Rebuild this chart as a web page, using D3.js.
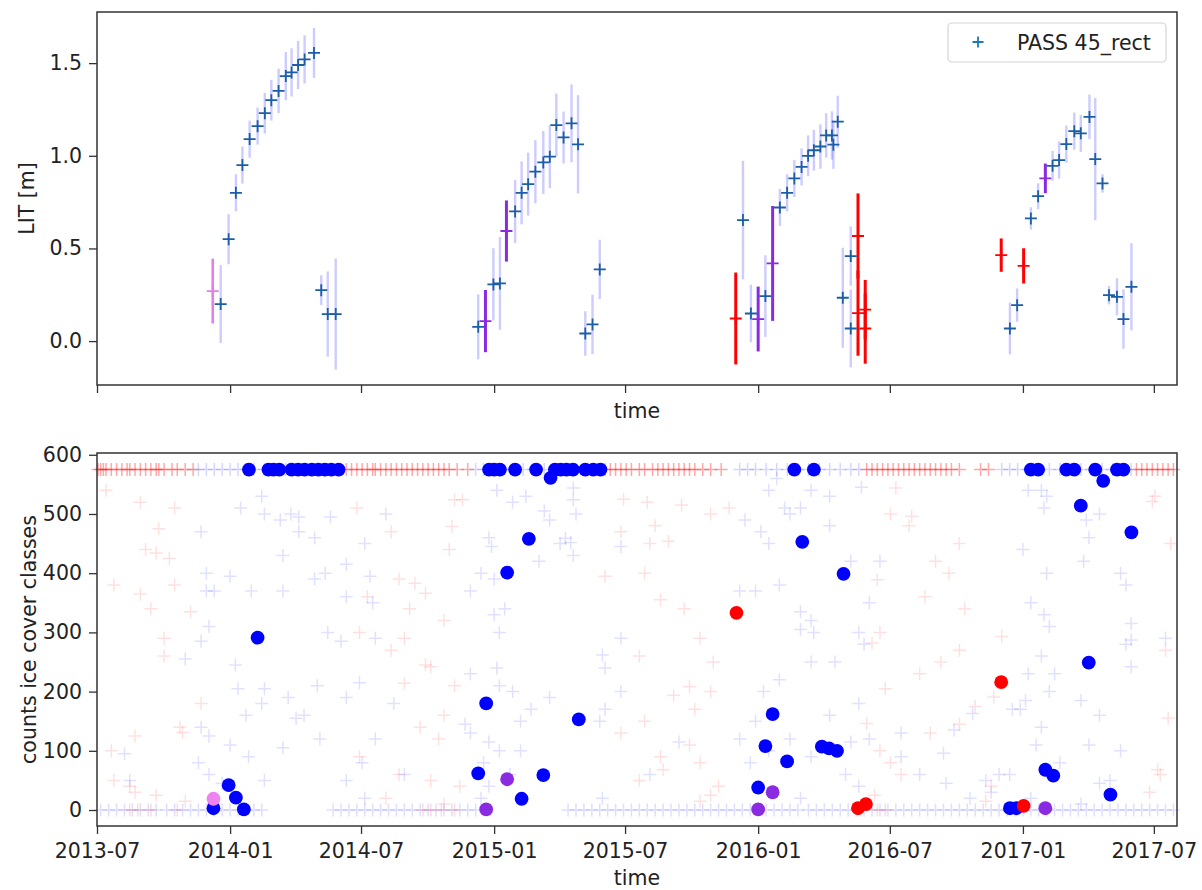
<!DOCTYPE html>
<html>
<head>
<meta charset="utf-8">
<script src="https://cdn.jsdelivr.net/npm/d3@7"></script>
<style>
  body { margin: 0; background: #fff; }
  svg { display: block; font-family: "DejaVu Sans", sans-serif; }
</style>
</head>
<body>
<svg id="chart"></svg>
<script>
// ---- data ----

// top panel: lake ice thickness per acquisition
let litDates = [
  "2013-12-08","2013-12-19","2013-12-30","2014-01-09","2014-01-18","2014-01-28","2014-02-08","2014-02-18",
  "2014-02-27","2014-03-09","2014-03-19","2014-03-27","2014-04-05","2014-04-14","2014-04-27","2014-05-07",
  "2014-05-16","2014-05-27",
  "2014-12-10","2014-12-20","2014-12-31","2015-01-09","2015-01-18","2015-01-30","2015-02-08","2015-02-17",
  "2015-02-27","2015-03-10","2015-03-19","2015-03-28","2015-04-07","2015-04-18","2015-04-27","2015-05-07",
  "2015-05-17","2015-05-27",
  "2015-12-01","2015-12-11","2015-12-22","2016-01-01","2016-01-11","2016-01-21","2016-01-31","2016-02-10",
  "2016-02-20","2016-03-01","2016-03-10","2016-03-18","2016-03-27","2016-04-04","2016-04-12","2016-04-14",
  "2016-04-20","2016-04-27","2016-05-08","2016-05-08","2016-05-18","2016-05-18","2016-05-28","2016-05-28",
  "2016-12-02","2016-12-14","2016-12-24","2017-01-02","2017-01-12","2017-01-22","2017-02-01","2017-02-11",
  "2017-02-20","2017-03-02","2017-03-13","2017-03-22","2017-04-03","2017-04-11","2017-04-21","2017-04-30",
  "2017-05-11","2017-05-20","2017-05-31"
];
let litValues = [
  0.27,0.20,0.55,0.80,0.95,1.09,1.16,1.23,
  1.30,1.35,1.43,1.45,1.49,1.52,1.555,0.275,
  0.146,0.146,
  0.077,0.108,0.306,0.311,0.594,0.70,0.80,0.847,
  0.914,0.964,0.995,1.166,1.099,1.175,1.062,0.041,
  0.09,0.387,
  0.122,0.653,0.149,0.119,0.243,0.419,0.721,0.80,
  0.878,0.94,1.00,1.03,1.05,1.11,1.11,1.06,
  1.184,0.234,0.459,0.068,0.567,0.151,0.17,0.068,
  0.464,0.068,0.194,0.406,0.662,0.782,0.878,0.946,
  0.977,1.063,1.133,1.121,1.21,0.982,0.851,0.248,
  0.239,0.119,0.293
];
let litErrors = [
  0.175,0.21,0.135,0.10,0.10,0.10,0.10,0.11,
  0.11,0.12,0.13,0.13,0.13,0.13,0.135,0.08,
  0.23,0.30,
  0.175,0.168,0.195,0.25,0.165,0.17,0.17,0.17,
  0.17,0.17,0.17,0.17,0.14,0.21,0.265,0.12,
  0.16,0.16,
  0.248,0.32,0.155,0.175,0.22,0.31,0.10,0.10,
  0.10,0.10,0.11,0.11,0.12,0.12,0.13,0.13,
  0.14,0.27,0.16,0.21,0.23,0.23,0.16,0.19,
  0.09,0.14,0.09,0.095,0.06,0.07,0.08,0.08,
  0.10,0.10,0.10,0.10,0.12,0.33,0.05,0.05,
  0.10,0.16,0.235
];
let litClass = [
  "violet","blue","blue","blue","blue","blue","blue","blue",
  "blue","blue","blue","blue","blue","blue","blue","blue",
  "blue","blue",
  "blue","purple","blue","blue","purple","blue","blue","blue",
  "blue","blue","blue","blue","blue","blue","blue","blue",
  "blue","blue",
  "red","blue","blue","purple","blue","purple","blue","blue",
  "blue","blue","blue","blue","blue","blue","blue","blue",
  "blue","blue","blue","blue","red","red","red","red",
  "red","blue","blue","red","blue","blue","purple","blue",
  "blue","blue","blue","blue","blue","blue","blue","blue",
  "blue","blue","blue"
];

// bottom panel: highlighted counts
let dotDates = [
  "2013-12-09","2013-12-30","2014-01-09","2014-01-20","2014-01-27","2014-02-08","2014-02-23","2014-03-02",
  "2014-03-10","2014-03-27","2014-04-05","2014-04-14","2014-04-24","2014-05-03","2014-05-12","2014-05-21",
  "2014-05-31",
  "2014-12-10","2014-12-21","2014-12-25","2015-01-01","2015-01-09","2015-01-19","2015-01-30","2015-02-08",
  "2015-02-18","2015-02-28","2015-03-10","2015-03-20","2015-03-26","2015-04-03","2015-04-11","2015-04-20",
  "2015-04-28","2015-05-07","2015-05-18","2015-05-28",
  "2016-01-01","2016-01-11","2016-01-21","2016-02-10","2016-02-20","2016-03-02","2016-03-18","2016-03-29",
  "2016-04-08","2016-04-19","2016-04-28",
  "2016-12-14","2016-12-23","2017-01-12","2017-01-22","2017-02-01","2017-02-12","2017-03-02","2017-03-13",
  "2017-03-22","2017-04-02","2017-04-11","2017-04-22","2017-05-02","2017-05-11","2017-05-20","2017-05-31",
  "2015-12-02","2016-05-18","2016-05-29","2016-12-02","2017-01-02",
  "2014-12-21","2015-01-19","2016-01-01","2016-01-21","2017-02-01",
  "2013-12-09"
];
let dotValues = [
  3,42,21,1,575,291,575,575,
  575,575,575,575,575,575,575,575,
  575,
  62,180,575,575,575,401,575,19,
  458,575,59,561,575,575,575,575,
  153,575,575,575,
  38,108,162,82,575,453,575,107,
  104,100,399,
  3,3,575,575,68,58,575,575,
  514,249,575,556,26,575,575,469,
  333,3,10,216,7,
  1,52,1,30,3,
  19
];
let dotClass = [
  "blue","blue","blue","blue","blue","blue","blue","blue",
  "blue","blue","blue","blue","blue","blue","blue","blue",
  "blue",
  "blue","blue","blue","blue","blue","blue","blue","blue",
  "blue","blue","blue","blue","blue","blue","blue","blue",
  "blue","blue","blue","blue",
  "blue","blue","blue","blue","blue","blue","blue","blue",
  "blue","blue","blue",
  "blue","blue","blue","blue","blue","blue","blue","blue",
  "blue","blue","blue","blue","blue","blue","blue","blue",
  "red","red","red","red","red",
  "purple","purple","purple","purple","purple",
  "violet"
];

// bottom panel: faint class counts, [decimal year, count]
let bgRed = [
  [2013.53,540],[2013.66,520],[2013.79,510],[2013.73,475],[2013.68,440],[2013.77,425],[2013.56,380],[2013.79,380],
  [2013.66,365],[2013.70,340],[2013.85,335],[2013.75,290],[2013.75,260],[2013.89,180],[2013.64,125],[2013.81,140],
  [2013.55,100],[2013.56,50],[2013.62,40],[2013.64,30],[2013.72,25],[2013.83,15],[2013.82,131],[2013.72,434],
  [2014.48,510],[2014.61,470],[2014.83,440],[2014.64,390],[2014.52,360],[2014.68,340],[2014.81,320],[2014.49,300],
  [2014.66,290],[2014.61,270],[2014.74,245],[2014.85,210],[2014.81,160],[2014.72,140],[2014.79,120],[2014.49,90],
  [2014.64,60],[2014.76,50],[2014.87,40],[2014.59,20],[2014.81,10],[2014.70,383],[2014.74,366],[2014.85,524],
  [2014.88,524],[2014.84,479],[2014.76,242],[2014.66,214],
  [2015.49,525],[2015.58,520],[2015.71,515],[2015.89,510],[2015.82,500],[2015.61,480],[2015.48,470],[2015.59,450],
  [2015.57,400],[2015.42,395],[2015.63,355],[2015.72,340],[2015.78,290],[2015.55,260],[2015.83,250],[2015.82,200],
  [2015.76,170],[2015.57,150],[2015.48,130],[2015.74,110],[2015.63,90],[2015.78,80],[2015.55,50],[2015.85,40],
  [2015.82,25],[2015.78,15],[2015.66,454],[2015.74,208],[2015.68,194],[2015.64,68],
  [2016.50,500],[2016.57,480],[2016.76,450],[2016.67,420],[2016.72,400],[2016.63,360],[2016.78,340],[2016.46,300],
  [2016.76,270],[2016.69,250],[2016.61,230],[2016.48,205],[2016.82,175],[2016.76,145],[2016.65,130],[2016.46,100],
  [2016.50,80],[2016.54,60],[2016.88,40],[2016.44,25],[2016.86,15],[2016.52,544],[2016.58,496],[2016.45,389],
  [2016.43,282],[2016.41,146],[2016.89,191],[2016.92,293],
  [2017.50,530],[2017.56,450],[2017.54,270],[2017.55,155],[2017.52,60],[2017.48,30],[2017.49,521],[2017.51,68]
];
let bgBlue = [
  [2013.89,470],[2013.91,400],[2013.91,370],[2013.92,310],[2013.89,285],[2013.83,255],[2013.89,140],[2013.92,125],
  [2013.88,80],[2013.92,60],[2013.60,95],[2013.62,50],
  [2014.12,530],[2014.04,510],[2014.13,500],[2014.23,500],[2014.26,495],[2014.38,495],[2014.19,490],[2014.26,470],
  [2014.32,460],[2014.20,430],[2014.44,415],[2014.36,400],[2014.00,395],[2014.32,390],[2014.08,370],[2014.20,370],
  [2013.94,370],[2014.44,360],[2014.37,300],[2014.42,285],[2014.02,245],[2014.13,205],[2014.03,205],[2014.33,210],
  [2014.44,190],[2014.22,190],[2014.12,180],[2014.28,160],[2014.06,160],[2014.25,155],[2014.34,120],[2014.20,105],
  [2014.00,110],[2014.07,90],[2014.44,50],[2014.13,50],[2013.97,45],
  [2014.59,500],[2014.51,450],[2014.53,395],[2014.54,350],[2014.55,290],[2014.49,215],[2014.62,180],[2014.55,120],
  [2014.50,80],[2014.51,20],[2014.66,60],
  [2015.01,540],[2015.12,530],[2015.07,520],[2015.19,505],[2015.31,500],[2015.21,490],[2014.98,460],[2014.99,445],
  [2015.25,450],[2015.29,452],[2015.30,430],[2015.17,420],[2014.95,400],[2015.00,390],[2014.91,370],[2015.04,340],
  [2015.00,330],[2015.02,300],[2015.01,240],[2014.91,230],[2015.02,210],[2015.07,200],[2015.21,190],[2015.14,170],
  [2015.10,150],[2014.89,145],[2014.91,130],[2014.98,115],[2015.02,100],[2015.10,100],[2014.96,80],[2015.06,60],
  [2014.98,40],[2014.95,20],[2015.30,544],[2015.30,524],[2015.27,459],
  [2015.48,290],[2015.42,240],[2015.48,200],[2015.42,170],[2015.40,150],[2015.70,115],[2015.59,60],[2015.41,20],
  [2015.48,445],[2015.41,262],
  [2016.07,560],[2016.04,540],[2016.20,540],[2016.27,530],[2016.16,510],[2016.10,510],[2016.12,500],[2015.95,490],
  [2016.27,480],[2016.01,470],[2016.04,450],[2016.35,420],[2016.08,380],[2015.99,370],[2015.93,370],[2016.16,335],
  [2016.20,320],[2016.16,305],[2016.21,300],[2016.20,250],[2016.29,250],[2016.08,220],[2016.02,200],[2016.38,180],
  [2016.27,160],[2015.99,150],[2015.93,120],[2016.12,120],[2016.35,115],[2016.04,100],[2016.20,90],[2015.97,80],
  [2016.33,60],[2016.38,40],[2016.16,20],
  [2016.39,545],[2016.46,420],[2016.42,350],[2016.38,300],[2016.40,280],[2016.74,135],[2016.42,120],[2016.54,90],
  [2016.61,60],[2016.71,45],[2016.80,20],[2016.54,130],[2016.70,96],[2016.81,163],[2016.88,30],[2016.86,50],
  [2017.02,540],[2017.07,540],[2017.09,530],[2017.08,510],[2017.29,500],[2017.24,490],[2017.25,460],[2017.00,440],
  [2017.23,420],[2017.09,400],[2017.37,400],[2017.39,380],[2017.03,350],[2017.08,330],[2017.10,310],[2017.39,280],
  [2017.07,260],[2017.12,230],[2017.02,230],[2017.10,200],[2017.01,185],[2017.22,185],[2016.96,170],[2016.99,170],
  [2017.29,160],[2017.07,140],[2017.25,110],[2017.05,110],[2017.37,100],[2017.14,80],[2016.95,60],[2016.91,60],
  [2017.33,50],[2017.29,45],[2017.03,20],[2017.22,10],
  [2017.41,315],[2017.41,287],[2017.54,290],[2017.41,242]
];
// dense rows at the saturated counts (575) and at zero, decimal years
let rowTopRed = [
  2013.50,2013.51,2013.52,2013.53,2013.55,2013.57,2013.59,2013.61,2013.62,2013.64,2013.66,2013.68,2013.70,2013.72,
  2013.73,2013.75,2013.78,2013.80,2013.83,2013.86,
  2014.44,2014.46,2014.48,2014.50,2014.52,2014.54,2014.55,2014.57,2014.59,2014.61,2014.63,2014.65,2014.67,2014.69,
  2014.71,2014.73,2014.75,2014.77,2014.79,2014.81,2014.83,2014.86,2014.90,
  2015.42,2015.44,2015.46,2015.48,2015.50,2015.52,2015.55,2015.57,2015.60,2015.62,2015.64,2015.66,2015.68,2015.70,
  2015.72,2015.74,2015.76,2015.79,2015.82,2015.86,
  2016.41,2016.43,2016.45,2016.47,2016.49,2016.51,2016.53,2016.55,2016.57,2016.59,2016.61,2016.63,2016.65,2016.67,
  2016.69,2016.71,2016.73,2016.76,2016.84,2016.87,
  2017.43,2017.45,2017.47,2017.49,2017.51,2017.53,2017.55,2017.57
];
let rowTopBlue = [
  2013.88,2013.91,2013.94,2013.97,2014.00,2014.03,2014.06,2014.09,2014.13,2014.17,2014.21,2014.25,2014.29,2014.33,
  2014.37,2014.41,
  2014.93,2014.96,2014.99,2015.03,2015.07,2015.11,2015.15,2015.19,2015.23,2015.27,2015.31,2015.35,2015.39,
  2015.93,2015.96,2015.99,2016.03,2016.07,2016.11,2016.15,2016.19,2016.23,2016.27,2016.31,2016.35,2016.38,
  2016.92,2016.95,2016.98,2017.02,2017.06,2017.10,2017.14,2017.18,2017.22,2017.26,2017.30,2017.34,2017.38,2017.41
];
let rowZeroBlue = [
  2013.51,2013.54,2013.57,2013.60,2013.63,2013.66,2013.69,2013.72,2013.76,2013.79,2013.82,2013.85,2013.88,2013.91,
  2013.94,2013.97,2014.00,2014.03,2014.06,2014.09,2014.12,
  2014.39,2014.42,2014.45,2014.48,2014.51,2014.54,2014.57,2014.60,2014.63,2014.66,2014.69,2014.72,2014.75,2014.78,
  2014.81,2014.84,2014.87,2014.90,2014.93,
  2015.28,2015.31,2015.34,2015.37,2015.40,2015.43,2015.46,2015.49,2015.52,2015.55,2015.58,2015.61,2015.64,2015.67,
  2015.70,2015.73,2015.76,2015.79,2015.82,2015.85,2015.88,2015.91,2015.94,2015.97,2016.00,2016.03,2016.06,2016.09,
  2016.12,2016.15,2016.19,2016.22,2016.25,2016.28,2016.31,2016.34,2016.37,2016.40,2016.43,2016.46,2016.49,2016.52,
  2016.55,2016.58,2016.61,2016.64,2016.67,2016.70,2016.73,2016.76,2016.79,2016.82,2016.85,2016.88,2016.91,2016.94,
  2016.97,2017.00,2017.03,2017.06,2017.09,2017.12,2017.15,2017.18,2017.21,2017.24,2017.27,2017.30,2017.33,2017.36,
  2017.39,2017.42,2017.45,2017.48,2017.51,2017.54,2017.57
];
let rowZeroRed = [2013.62,2013.65,2013.70,2013.80,2014.73,2014.76,2014.80,2014.85,2016.45,2016.48];

let xTickDates = ["2013-07","2014-01","2014-07","2015-01","2015-07","2016-01","2016-07","2017-01","2017-07"];
let yTopTicks = [0.0, 0.5, 1.0, 1.5];
let yBotTicks = [0, 100, 200, 300, 400, 500, 600];
let rowTopValue = 575;
let rowZeroValue = 0;

// ---- layout ----
let width = 1202;
let height = 890;
let left = 97, right = 1177;
let top1 = 12, bottom1 = 385;
let top2 = 453, bottom2 = 826;
let fontSize = 20.5;

let parseDay = d3.timeParse("%Y-%m-%d");
let parseMonth = d3.timeParse("%Y-%m");
let fromDecimal = (y) => {
  let yr = Math.floor(y);
  let a = new Date(yr, 0, 1), b = new Date(yr + 1, 0, 1);
  return new Date(+a + (y - yr) * (b - a));
};

let svg = d3.select("#chart").attr("width", width).attr("height", height);

let xScale = d3.scaleTime()
  .domain([parseDay("2013-07-01"), parseDay("2017-08-02")])
  .range([left, right]);
let yTop = d3.scaleLinear().domain([-0.237, 1.776]).range([bottom1, top1]);
let yBot = d3.scaleLinear().domain([-27, 603]).range([bottom2, top2]);

let markerColor = { blue: "#1c5ea6", red: "#ff0000", purple: "#8a2be2", violet: "#e67ee6" };
let barColor = { blue: "rgba(40,40,255,0.24)", red: "#ff0000", purple: "#8a2be2", violet: "#e67ee6" };
let barWidth = { blue: 2.4, red: 3, purple: 3, violet: 2.6 };
let dotColor = { blue: "#0000ff", red: "#ff0000", purple: "#8a2be2", violet: "#ee82ee" };

let plus = (s) => `M${-s},0H${s}M0,${-s}V${s}`;

// ---- top panel ----
let lit = litDates.map((d, i) => ({ date: parseDay(d), v: litValues[i], e: litErrors[i], c: litClass[i] }));
let topG = svg.append("g");

topG.selectAll("line.err")
  .data(lit)
  .enter()
  .append("line")
  .attr("class", "err")
  .attr("x1", d => xScale(d.date))
  .attr("x2", d => xScale(d.date))
  .attr("y1", d => yTop(d.v - d.e))
  .attr("y2", d => yTop(d.v + d.e))
  .attr("stroke", d => barColor[d.c])
  .attr("stroke-width", d => barWidth[d.c]);

topG.selectAll("path.mk")
  .data(lit)
  .enter()
  .append("path")
  .attr("class", "mk")
  .attr("d", plus(6))
  .attr("transform", d => `translate(${xScale(d.date)},${yTop(d.v)})`)
  .attr("fill", "none")
  .attr("stroke", d => markerColor[d.c])
  .attr("stroke-width", 1.8);

// ---- bottom panel ----
let botG = svg.append("g");
let drawCrosses = (pts, color, alpha) => {
  botG.append("g")
    .selectAll("path")
    .data(pts)
    .enter()
    .append("path")
    .attr("d", plus(6.5))
    .attr("transform", d => `translate(${xScale(fromDecimal(d[0]))},${yBot(d[1])})`)
    .attr("fill", "none")
    .attr("stroke", color)
    .attr("stroke-opacity", alpha)
    .attr("stroke-width", 1.5);
};
drawCrosses(bgRed, "#ff0000", 0.12);
drawCrosses(bgBlue, "#0000ff", 0.12);
drawCrosses(rowZeroBlue.map(t => [t, rowZeroValue]), "#0000ff", 0.13);
drawCrosses(rowZeroRed.map(t => [t, rowZeroValue]), "#ff0000", 0.14);
drawCrosses(rowTopBlue.map(t => [t, rowTopValue]), "#0000ff", 0.16);
drawCrosses(rowTopRed.map(t => [t, rowTopValue]), "#ff0000", 0.34);

let dots = dotDates.map((d, i) => ({ date: parseDay(d), v: dotValues[i], c: dotClass[i] }));
botG.append("g")
  .selectAll("circle")
  .data(dots)
  .enter()
  .append("circle")
  .attr("cx", d => xScale(d.date))
  .attr("cy", d => yBot(d.v))
  .attr("r", 6.9)
  .attr("fill", d => dotColor[d.c]);

// ---- axes and frames ----
let xTicks = xTickDates.map(parseMonth);

let styleAxis = (g) => {
  g.select(".domain").remove();
  g.selectAll(".tick line").attr("stroke", "#333").attr("stroke-width", 1.3);
  g.selectAll(".tick text").attr("fill", "#222").style("font-size", fontSize + "px")
    .style("font-family", "DejaVu Sans, sans-serif");
};

svg.append("g")
  .attr("transform", `translate(0,${bottom1})`)
  .call(d3.axisBottom(xScale).tickValues(xTicks).tickSize(8).tickFormat(""))
  .call(styleAxis);
svg.append("g")
  .attr("transform", `translate(${left},0)`)
  .call(d3.axisLeft(yTop).tickValues(yTopTicks).tickSize(8).tickPadding(7).tickFormat(d3.format(".1f")))
  .call(styleAxis);

svg.append("g")
  .attr("transform", `translate(0,${bottom2})`)
  .call(d3.axisBottom(xScale).tickValues(xTicks).tickSize(8).tickPadding(9.5).tickFormat(d3.timeFormat("%Y-%m")))
  .call(styleAxis);
svg.append("g")
  .attr("transform", `translate(${left},0)`)
  .call(d3.axisLeft(yBot).tickValues(yBotTicks).tickSize(8).tickPadding(7))
  .call(styleAxis);

[[top1, bottom1], [top2, bottom2]].forEach(([t, b]) => {
  svg.append("rect")
    .attr("x", left).attr("y", t)
    .attr("width", right - left).attr("height", b - t)
    .attr("fill", "none").attr("stroke", "#333").attr("stroke-width", 1.5);
});

// ---- labels ----
svg.append("text")
  .attr("x", (left + right) / 2).attr("y", 418)
  .attr("text-anchor", "middle").attr("fill", "#222").style("font-size", fontSize + "px")
  .text("time");
svg.append("text")
  .attr("x", (left + right) / 2).attr("y", 885)
  .attr("text-anchor", "middle").attr("fill", "#222").style("font-size", fontSize + "px")
  .text("time");
svg.append("text")
  .attr("transform", `translate(34,${(top1 + bottom1) / 2}) rotate(-90)`)
  .attr("text-anchor", "middle").attr("fill", "#222").style("font-size", fontSize + "px")
  .text("LIT [m]");
svg.append("text")
  .attr("transform", `translate(36,${(top2 + bottom2) / 2}) rotate(-90)`)
  .attr("text-anchor", "middle").attr("fill", "#222").style("font-size", fontSize + "px")
  .text("counts ice cover classes");

// ---- legend ----
let legend = svg.append("g");
legend.append("rect")
  .attr("x", 948).attr("y", 23).attr("width", 218).attr("height", 39).attr("rx", 4)
  .attr("fill", "#fff").attr("fill-opacity", 0.8).attr("stroke", "#d4d4d4").attr("stroke-width", 1.2);
legend.append("path")
  .attr("d", plus(5.5))
  .attr("transform", "translate(978,42)")
  .attr("fill", "none").attr("stroke", "#1f77b4").attr("stroke-width", 1.8);
legend.append("text")
  .attr("x", 1017).attr("y", 50)
  .attr("fill", "#222").style("font-size", fontSize + "px")
  .text("PASS 45_rect");
</script>
</body>
</html>
